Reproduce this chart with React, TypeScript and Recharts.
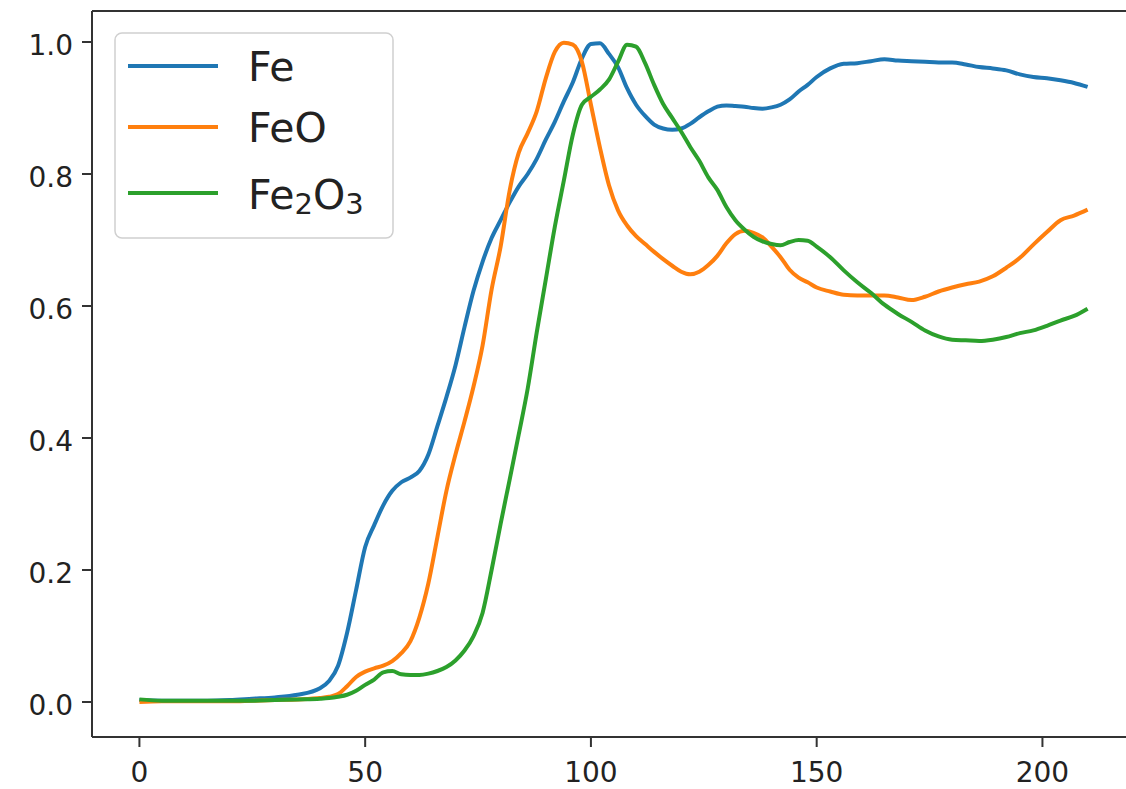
import { LineChart, Line, XAxis, YAxis, ReferenceLine } from "recharts";

// sample positions (x) shared by all three series
const xs = [
  0, 5, 10, 15, 20, 25, 30, 35, 40, 42, 44, 46, 48, 50, 52, 54, 56, 58, 60, 62,
  64, 66, 68, 70, 72, 74, 76, 78, 80, 82, 84, 86, 88, 90, 92, 94, 96, 98, 100,
  102, 104, 106, 108, 110, 112, 114, 116, 118, 120, 122, 124, 126, 128, 130,
  132, 134, 136, 138, 140, 142, 144, 146, 148, 150, 153, 156, 159, 162, 165,
  168, 171, 174, 177, 180, 183, 186, 189, 192, 195, 198, 201, 204, 207, 210,
];

const fe = [
  0.003, 0.002, 0.002, 0.002, 0.003, 0.005, 0.007, 0.011, 0.021, 0.032, 0.055,
  0.105, 0.17, 0.235, 0.268, 0.298, 0.32, 0.333, 0.34, 0.35, 0.375, 0.418,
  0.462, 0.51, 0.568, 0.623, 0.667, 0.703, 0.73, 0.757, 0.781, 0.8, 0.823,
  0.852, 0.879, 0.91, 0.939, 0.975, 0.997, 0.998, 0.982, 0.962, 0.93, 0.905,
  0.888, 0.875, 0.869, 0.867, 0.869, 0.876, 0.886, 0.895, 0.902, 0.904, 0.903,
  0.902, 0.9, 0.899, 0.901, 0.905, 0.913, 0.925, 0.935, 0.947, 0.96, 0.967,
  0.968, 0.971, 0.974, 0.972, 0.971, 0.97, 0.969, 0.969, 0.966, 0.962, 0.96,
  0.957, 0.951, 0.947, 0.945, 0.942, 0.938, 0.932,
];

const feo = [
  0.0, 0.001, 0.001, 0.001, 0.001, 0.002, 0.003, 0.004, 0.006, 0.008, 0.012,
  0.024, 0.038, 0.046, 0.051, 0.055, 0.062, 0.074, 0.092, 0.128, 0.18, 0.25,
  0.32, 0.375, 0.425, 0.478, 0.54, 0.625, 0.69, 0.775, 0.832, 0.862, 0.895,
  0.945, 0.985, 0.999, 0.996, 0.97, 0.905, 0.84, 0.783, 0.745, 0.722, 0.706,
  0.694, 0.682, 0.671, 0.661, 0.652, 0.648, 0.652, 0.662, 0.676, 0.695, 0.709,
  0.714, 0.711, 0.704, 0.69, 0.674, 0.655, 0.643, 0.636, 0.628, 0.622, 0.617,
  0.616, 0.616, 0.616, 0.613, 0.609, 0.614, 0.622, 0.628, 0.633, 0.637, 0.645,
  0.658, 0.673, 0.693, 0.712, 0.73, 0.737, 0.746,
];

const fe2o3 = [
  0.004, 0.002, 0.002, 0.002, 0.002, 0.002, 0.003, 0.004, 0.005, 0.006, 0.008,
  0.011, 0.017, 0.026, 0.034, 0.045, 0.047, 0.042, 0.041, 0.041, 0.043, 0.047,
  0.053, 0.063, 0.078, 0.1, 0.135, 0.2, 0.27, 0.337, 0.405, 0.475, 0.56, 0.64,
  0.72, 0.79, 0.86, 0.905, 0.917, 0.928, 0.943, 0.97, 0.996, 0.993, 0.968,
  0.935, 0.906, 0.885, 0.864, 0.841, 0.82, 0.795, 0.776, 0.75, 0.73, 0.716,
  0.705, 0.698, 0.694, 0.692, 0.697, 0.7, 0.699, 0.69, 0.674, 0.654, 0.636,
  0.62, 0.602, 0.588, 0.576, 0.563, 0.554, 0.549, 0.548, 0.547, 0.549, 0.553,
  0.559, 0.563, 0.57, 0.578, 0.585, 0.596,
];

const xTicks = [0, 50, 100, 150, 200];
const yTicks = [0, 0.2, 0.4, 0.6, 0.8, 1.0];

const X_DOMAIN: [number, number] = [-10.5, 220.5];
const Y_DOMAIN: [number, number] = [-0.053, 1.047];

const data = xs.map((x, i) => ({ x, fe: fe[i], feo: feo[i], fe2o3: fe2o3[i] }));

const FONT = "DejaVu Sans";
const INK = "#222";
const SPINE = { stroke: "#333", strokeWidth: 2 };

const XTick = ({ x, y, payload }: any) => (
  <text x={x} y={y + 20} textAnchor="middle" fontSize={28} fontFamily={FONT} fill={INK}>
    {payload.value}
  </text>
);

const YTick = ({ x, y, payload }: any) => (
  <text x={x} y={y + 13} textAnchor="end" fontSize={28} fontFamily={FONT} fill={INK}>
    {Number(payload.value).toFixed(1)}
  </text>
);

function LegendBox() {
  return (
    <svg
      width={1126}
      height={789}
      style={{ position: "absolute", left: 0, top: 0, pointerEvents: "none" }}
    >
      <rect x={115} y={33} width={278} height={205} rx={7} fill="#fff" fillOpacity={0.8} stroke="#d0d0d0" strokeWidth={1.5} />
      <line x1={128} x2={218} y1={66} y2={66} stroke="#1f77b4" strokeWidth={4} />
      <line x1={128} x2={218} y1={127} y2={127} stroke="#ff7f0e" strokeWidth={4} />
      <line x1={128} x2={218} y1={193} y2={193} stroke="#2ca02c" strokeWidth={4} />
      <g fontFamily={FONT} fontSize={41} fill={INK}>
        <text x={248} y={81}>Fe</text>
        <text x={248} y={142}>FeO</text>
        <text x={248} y={209}>
          Fe<tspan fontSize={29} dy={5}>2</tspan>
          <tspan dy={-5}>O</tspan>
          <tspan fontSize={29} dy={5}>3</tspan>
        </text>
      </g>
    </svg>
  );
}

export default function App() {
  return (
    <div style={{ position: "relative", width: 1126, height: 789, overflow: "hidden", background: "#fff" }}>
      <style>{`html,body{margin:0;padding:0;overflow:hidden;}`}</style>
      <LineChart width={1150} height={789} data={data} margin={{ top: 11, right: 15, bottom: 0, left: 0 }}>
        <XAxis
          dataKey="x"
          type="number"
          domain={X_DOMAIN}
          ticks={xTicks}
          allowDataOverflow
          height={52}
          tickSize={10}
          tickMargin={15}
          tickLine={SPINE}
          axisLine={SPINE}
          tick={<XTick />}
        />
        <YAxis
          type="number"
          domain={Y_DOMAIN}
          ticks={yTicks}
          allowDataOverflow
          width={92}
          tickSize={10}
          tickMargin={9}
          tickLine={SPINE}
          axisLine={SPINE}
          tick={<YTick />}
        />
        {/* top spine of the frame */}
        <ReferenceLine y={Y_DOMAIN[1]} stroke={SPINE.stroke} strokeWidth={SPINE.strokeWidth} ifOverflow="visible" />
        <Line type="monotone" dataKey="fe" stroke="#1f77b4" strokeWidth={4} dot={false} isAnimationActive={false} />
        <Line type="monotone" dataKey="feo" stroke="#ff7f0e" strokeWidth={4} dot={false} isAnimationActive={false} />
        <Line type="monotone" dataKey="fe2o3" stroke="#2ca02c" strokeWidth={4} dot={false} isAnimationActive={false} />
      </LineChart>
      <LegendBox />
    </div>
  );
}
